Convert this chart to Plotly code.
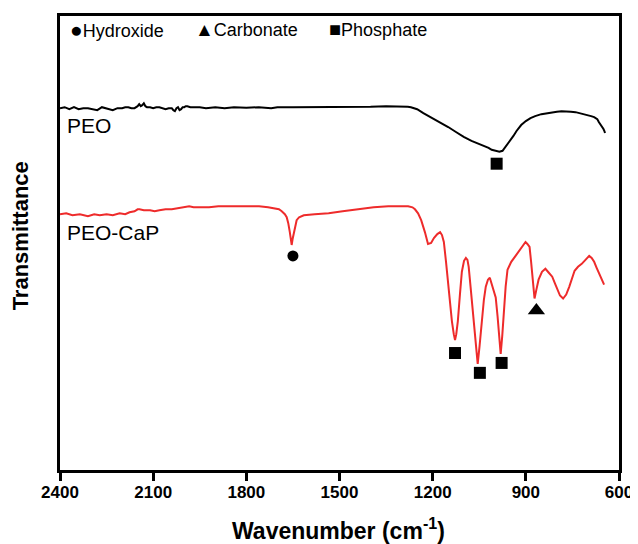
import plotly.graph_objects as go

# PEO spectrum (wavenumber cm-1, transmittance a.u.)
peo_wn = [2400, 2385, 2370, 2355, 2340, 2325, 2310, 2295, 2280, 2265, 2250, 2240, 2230, 2215, 2200, 2190,
          2180, 2170, 2160, 2150, 2145, 2140, 2135, 2130, 2125, 2120, 2110, 2100, 2090, 2080, 2070, 2060,
          2050, 2040, 2035, 2030, 2025, 2020, 2015, 2010, 2005, 2000, 1995, 1990, 1980, 1970, 1950, 1930,
          1900, 1870, 1840, 1800, 1760, 1720, 1700, 1650, 1600, 1550, 1500, 1450, 1400, 1350, 1300, 1280,
          1270, 1250, 1230, 1200, 1175, 1150, 1125, 1100, 1075, 1050, 1035, 1020, 1010, 1000, 990, 985,
          975, 970, 960, 950, 940, 930, 915, 900, 885, 870, 850, 830, 815, 800, 785, 770, 755, 740,
          725, 710, 700, 690, 680, 670, 665, 660, 655, 650, 647, 645]
peo_t = [365, 366, 364, 366, 364, 365, 365, 364, 363, 366, 365, 364, 363, 365, 365, 366,
         366, 365, 365, 367, 369, 367, 368, 370, 367, 366, 366, 365, 366, 366, 365, 364,
         365, 365, 363, 362, 365, 366, 363, 364, 366, 366, 367, 367, 366, 366, 366, 365,
         366, 365, 366, 365.5, 366, 365, 366, 366, 366, 366.5, 366, 366.5, 366.5, 367, 367, 366.5,
         366, 364, 360, 355, 351, 346, 341, 336, 332, 329, 327, 325, 323, 322, 321, 321,
         322, 324, 328, 332, 337, 342, 348, 352, 355, 357, 359, 360, 361, 361.5, 362, 362, 361.5, 361,
         360, 359, 358, 357, 356, 354, 351, 349, 347, 344, 342, 340]

# PEO-CaP spectrum
cap_wn = [2400, 2380, 2360, 2336, 2310, 2290, 2272, 2250, 2230, 2208, 2190, 2176, 2160, 2150, 2144,
          2130, 2110, 2095, 2080, 2060, 2040, 2016, 2000, 1984, 1970, 1952, 1920, 1890, 1855, 1820,
          1790, 1759, 1730, 1711, 1695, 1686, 1676, 1670, 1665, 1660, 1656, 1654, 1651, 1647, 1643,
          1638, 1630, 1615, 1580, 1535, 1490, 1439, 1390, 1343, 1310, 1279, 1265, 1257, 1247, 1237,
          1225, 1215, 1205, 1196, 1185, 1176, 1170, 1164, 1157, 1151, 1144, 1138, 1132, 1128, 1124,
          1119, 1112, 1106, 1099, 1093, 1088, 1084, 1078, 1071, 1063, 1055, 1049, 1042, 1035, 1029,
          1022, 1016, 1010, 1004, 997, 991, 986, 981, 976, 971, 965, 959, 947, 933, 917, 901, 895,
          888, 883, 878, 872, 866, 859, 848, 837, 826, 815, 806, 799, 790, 780, 770, 760, 751, 743,
          732, 720, 708, 696, 688, 680, 672, 664, 659, 655, 651, 648]
cap_t = [258, 259, 257, 258, 256, 258, 257, 258, 257, 259, 258, 260, 261, 263, 263,
         262, 262, 261, 262, 263, 263, 264, 265, 266, 265, 265, 265, 266, 266, 266,
         266, 266, 265, 264, 263, 261, 258, 255, 249, 240, 232, 227, 233, 238, 245,
         252, 255, 257, 258, 259, 261, 263, 265, 266, 266, 266, 265, 263, 259, 252,
         240, 228, 229, 234, 238, 240, 237, 230, 210, 190, 170, 150, 137, 131, 137,
         150, 178, 200, 211, 214, 212, 205, 185, 160, 130, 107, 125, 150, 172, 185,
         192, 194, 188, 182, 174, 155, 135, 117, 135, 160, 185, 202, 210, 216, 223, 230, 228,
         225, 210, 190, 173, 182, 192, 200, 203, 199, 195, 188, 182, 176, 173, 177, 185, 194, 201,
         205, 208, 212, 216, 214, 210, 204, 198, 194, 192, 189, 187]

# Band assignments (markers)
hyd_wn = [1650]
hyd_t = [216]
carb_wn = [866]
carb_t = [161]
phos_wn = [994, 1128, 1048, 978]
phos_t = [309, 118, 98, 108]

x_ticks = [2400, 2100, 1800, 1500, 1200, 900, 600]

FONT = "Liberation Sans, Arial, sans-serif"

fig = go.Figure()
fig.add_trace(go.Scatter(x=peo_wn, y=peo_t, mode="lines", line=dict(color="black", width=2),
                         showlegend=False))
fig.add_trace(go.Scatter(x=cap_wn, y=cap_t, mode="lines", line=dict(color="#ee2b2b", width=2),
                         showlegend=False))
fig.add_trace(go.Scatter(x=hyd_wn, y=hyd_t, mode="markers",
                         marker=dict(symbol="circle", size=11, color="black"), showlegend=False))
fig.add_trace(go.Scatter(x=carb_wn, y=carb_t, mode="markers",
                         marker=dict(symbol="triangle-up", size=15, color="black"), showlegend=False))
fig.add_trace(go.Scatter(x=phos_wn, y=phos_t, mode="markers",
                         marker=dict(symbol="square", size=12, color="black"), showlegend=False))

annotations = [
    dict(text="<span style='font-size:21px'>●</span>Hydroxide", x=0.0142, y=0.9694, xanchor="left", yanchor="middle"),
    dict(text="<span style='font-size:19px'>▲</span>Carbonate", x=0.2384, y=0.9694, xanchor="left", yanchor="middle"),
    dict(text="<span style='font-size:20px'>■</span>Phosphate", x=0.4769, y=0.9716, xanchor="left", yanchor="middle"),
]
for a in annotations:
    a.update(xref="paper", yref="paper", showarrow=False, font=dict(family=FONT, size=18, color="black"))

annotations += [
    dict(text="PEO", x=0.0089, y=0.7593, xref="paper", yref="paper", xanchor="left", yanchor="middle",
         showarrow=False, font=dict(family=FONT, size=21, color="black")),
    dict(text="PEO-CaP", x=0.0089, y=0.5230, xref="paper", yref="paper", xanchor="left", yanchor="middle",
         showarrow=False, font=dict(family=FONT, size=21, color="black")),
    dict(text="Transmittance", x=-0.071, y=0.5153, xref="paper", yref="paper", xanchor="center",
         yanchor="middle", textangle=-90, showarrow=False,
         font=dict(family=FONT, size=22, color="black", weight="bold")),
    dict(text="Wavenumber (cm<sup>-1</sup>)", x=0.499, y=-0.130, xref="paper", yref="paper",
         xanchor="center", yanchor="middle", showarrow=False,
         font=dict(family=FONT, size=23, color="black", weight="bold")),
]

fig.update_layout(
    width=630, height=536,
    margin=dict(l=52, r=16, t=5, b=74),
    plot_bgcolor="white", paper_bgcolor="white",
    annotations=annotations,
    xaxis=dict(range=[2400, 600], tickvals=x_ticks, ticktext=[str(v) for v in x_ticks],
               ticks="outside", ticklen=8, tickwidth=2.5, tickcolor="black",
               showline=True, linewidth=2.5, linecolor="black", mirror=True,
               showgrid=False, zeroline=False, ticklabelstandoff=-3,
               tickfont=dict(family=FONT, size=17, color="black", weight="bold")),
    yaxis=dict(range=[0, 458], showticklabels=False, ticks="",
               showline=True, linewidth=2.5, linecolor="black", mirror=True,
               showgrid=False, zeroline=False),
)

fig.write_html("out.html")
